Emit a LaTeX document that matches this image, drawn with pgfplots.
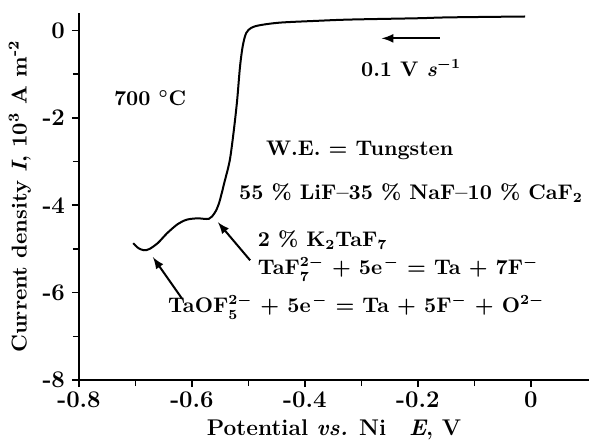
\documentclass[border=0pt]{standalone}
\usepackage{pgfplots}
\pgfplotsset{compat=1.18}
\newcommand{\lblA}{700 $^{\circ}$C}
\newcommand{\lblB}{W.E. = Tungsten}
\newcommand{\lblC}{55 \% LiF\textendash 35 \% NaF\textendash 10 \% CaF$_{2}$}
\newcommand{\lblD}{2 \% K$_{2}$TaF$_{7}$}
\newcommand{\lblE}{TaF$_{7}^{2-}$ + 5e\kern0.8pt$^{-}$ = Ta + 7F$^{-}$}
\newcommand{\lblF}{TaOF$_{5}^{2-}$ + 5e\kern0.8pt$^{-}$ = Ta + 5F$^{-}$ + O$^{2-}$}
\newcommand{\lblG}{0.1 V \textit{s}$^{-1}$}
\newcommand{\annfont}{\fontsize{10.6}{12}\selectfont\bfseries\boldmath}
\begin{document}
\begin{tikzpicture}
\begin{axis}[
  at={(0,0)}, anchor=south west,
  scale only axis, width=255bp, height=183.5bp,
  xmin=-0.8, xmax=0.103, ymin=-8, ymax=0.4,
  axis x line=bottom, axis y line=left,
  axis line style={-, line width=1bp},
  tick align=outside,
  major tick length=3.5bp, minor tick length=3bp,
  tick style={black, line width=0.8bp},
  xtick={-0.8,-0.6,-0.4,-0.2,0},
  xticklabels={-0.8,-0.6,-0.4,-0.2,0},
  minor xtick={-0.7,-0.5,-0.3,-0.1},
  ytick={-8,-6,-4,-2,0},
  yticklabels={-8,-6,-4,-2,0},
  minor ytick={-7,-5,-3,-1},
  tick label style={font=\fontsize{12}{14}\selectfont\bfseries},
  xticklabel style={yshift=1bp},
  xlabel={Potential \textit{vs.} Ni\quad\textit{E}, V},
  ylabel={Current density \textit{I}, 10\textsuperscript{3} A m\textsuperscript{-2}},
  xlabel style={font=\fontsize{11.4}{13}\selectfont\bfseries, yshift=1bp},
  ylabel style={font=\fontsize{10.8}{13}\selectfont\bfseries, yshift=-1bp},
  clip=false,
]
\addplot[black, line width=1bp, smooth] coordinates {
(-0.704,-4.87) (-0.695,-4.98) (-0.685,-5.03) (-0.675,-5.00) (-0.660,-4.86)
(-0.644,-4.64) (-0.625,-4.43) (-0.609,-4.33) (-0.590,-4.30) (-0.570,-4.31)
(-0.560,-4.18) (-0.552,-3.95) (-0.542,-3.45) (-0.533,-2.97) (-0.526,-2.30)
(-0.520,-1.60) (-0.515,-0.84) (-0.510,-0.35) (-0.504,-0.06) (-0.495,0.06)
(-0.480,0.12) (-0.444,0.18) (-0.380,0.22) (-0.320,0.25) (-0.200,0.28)
(-0.145,0.30) (-0.010,0.32)
};
\node[font=\annfont] at (axis cs:-0.674,-1.55) {\lblA};
\node[font=\annfont] at (axis cs:-0.303,-2.74) {\lblB};
\node[font=\annfont] at (axis cs:-0.212,-3.73) {\lblC};
\node[font=\annfont, anchor=west, inner sep=0pt] at (axis cs:-0.484,-4.80) {\lblD};
\node[font=\annfont, anchor=west, inner sep=0pt] at (axis cs:-0.484,-5.46) {\lblE};
\node[font=\annfont, anchor=west, inner sep=0pt] at (axis cs:-0.643,-6.33) {\lblF};
\node[font=\annfont] at (axis cs:-0.212,-0.85) {\lblG};
\draw[->, >=latex, line width=1bp] (axis cs:-0.161,-0.18) -- (axis cs:-0.264,-0.18);
\draw[->, >=latex, line width=1bp] (axis cs:-0.497,-5.26) -- (axis cs:-0.554,-4.39);
\draw[->, >=latex, line width=1bp] (axis cs:-0.618,-6.13) -- (axis cs:-0.669,-5.19);
\end{axis}
\pgfresetboundingbox
\path (-39.5bp,-30.5bp) rectangle (255bp,190bp);
\end{tikzpicture}
\end{document}
